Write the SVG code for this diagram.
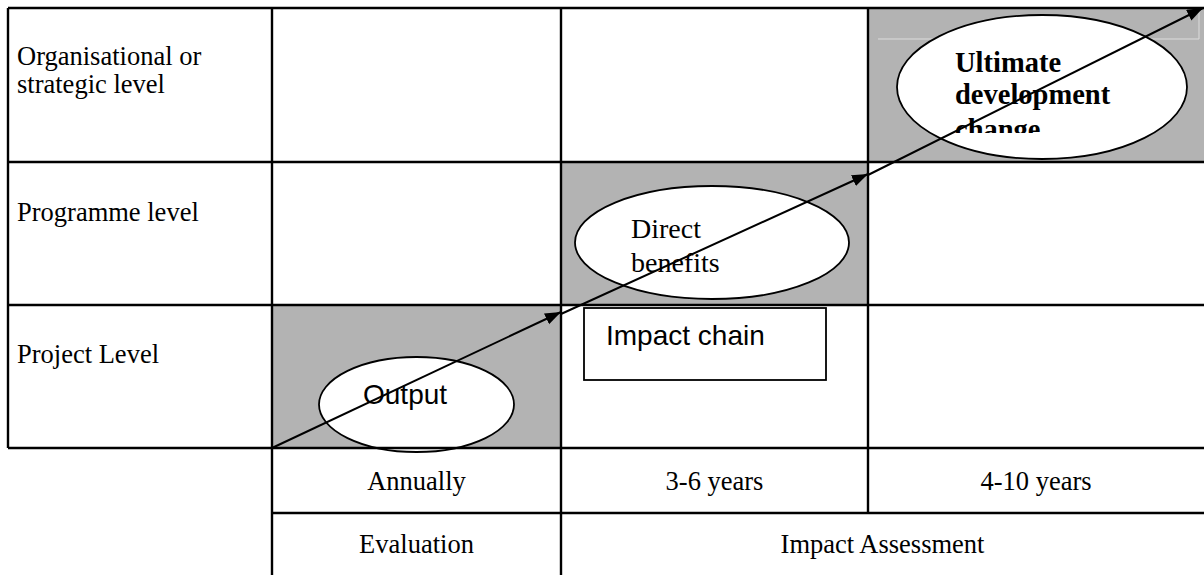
<svg xmlns="http://www.w3.org/2000/svg" width="1204" height="575" viewBox="0 0 1204 575">
<style>
.grid{stroke:#000;stroke-width:2.4;fill:none}
.shade{fill:#b3b3b3}
.ell{fill:#fff;stroke:#000;stroke-width:1.8}
.t{font-family:"Liberation Serif","Times New Roman",serif;font-size:26.5px;fill:#000}
.tc{font-family:"Liberation Serif","Times New Roman",serif;font-size:26.5px;fill:#000;text-anchor:middle}
.sans{font-family:"Liberation Sans",Arial,sans-serif;font-size:28px;fill:#000}
.big{font-family:"Liberation Serif","Times New Roman",serif;font-size:28px;fill:#000}
.bold{font-family:"Liberation Serif","Times New Roman",serif;font-size:28.5px;font-weight:bold;fill:#000}
.arrow{stroke:#000;stroke-width:2;fill:none;marker-end:url(#ah)}
</style>
<defs>
<marker id="ah" markerUnits="userSpaceOnUse" markerWidth="18" markerHeight="14" refX="16" refY="6" orient="auto">
<path d="M0,0 L16,6 L0,12 Z" fill="#000"/>
</marker>
<clipPath id="ulclip"><rect x="900" y="30" width="290" height="103"/></clipPath>
</defs>
<rect width="1204" height="575" fill="#fff"/>
<g id="cells">
<rect class="shade" x="272" y="305" width="289" height="143"/>
<rect class="shade" x="561" y="162" width="307" height="143"/>
<rect class="shade" x="868" y="8" width="336" height="154"/>
<path d="M878,39 H1199 V8" stroke="#dcdcdc" stroke-width="1" fill="none"/>
</g>
<g id="node-output">
<ellipse class="ell" cx="416.5" cy="404.5" rx="97.5" ry="47.5"/>
</g>
<g id="node-direct">
<ellipse class="ell" cx="712" cy="242.5" rx="137" ry="56.5"/>
</g>
<g id="node-ultimate">
<ellipse class="ell" cx="1042" cy="87" rx="145" ry="72"/>
</g>
<g id="grid">
<path class="grid" d="M8,8 H1204 M8,162 H1204 M8,305 H1204 M8,448 H1204 M272,513 H1204"/>
<path class="grid" d="M8,8 V448 M272,8 V575 M561,8 V575 M868,8 V513"/>
</g>
<g id="labels">
<text class="t" x="17" y="65">Organisational or</text>
<text class="t" x="17" y="93">strategic level</text>
<text class="t" x="17" y="221">Programme level</text>
<text class="t" x="17" y="363">Project Level</text>
<text class="tc" x="416.5" y="490">Annually</text>
<text class="tc" x="714.5" y="490">3-6 years</text>
<text class="tc" x="1036" y="490">4-10 years</text>
<text class="tc" x="416.5" y="553">Evaluation</text>
<text class="tc" x="882.5" y="553">Impact Assessment</text>
</g>
<g id="node-impact-chain">
<rect x="584" y="308" width="242" height="72" fill="#fff" stroke="#000" stroke-width="1.8"/>
<text class="sans" x="606" y="345" font-size="27">Impact chain</text>
</g>
<g id="node-texts">
<text class="sans" x="363" y="404">Output</text>
<text class="big" x="631" y="238">Direct</text>
<text class="big" x="631" y="272">benefits</text>
<g clip-path="url(#ulclip)">
<text class="bold" x="955" y="72">Ultimate</text>
<text class="bold" x="955" y="104">development</text>
<text class="bold" x="955" y="139">change</text>
</g>
</g>
<g id="connectors">
<line class="arrow" x1="272" y1="448" x2="561" y2="312"/>
<line class="arrow" x1="561" y1="314" x2="868" y2="174"/>
<line class="arrow" x1="868" y1="175" x2="1203" y2="8"/>
</g>
</svg>
